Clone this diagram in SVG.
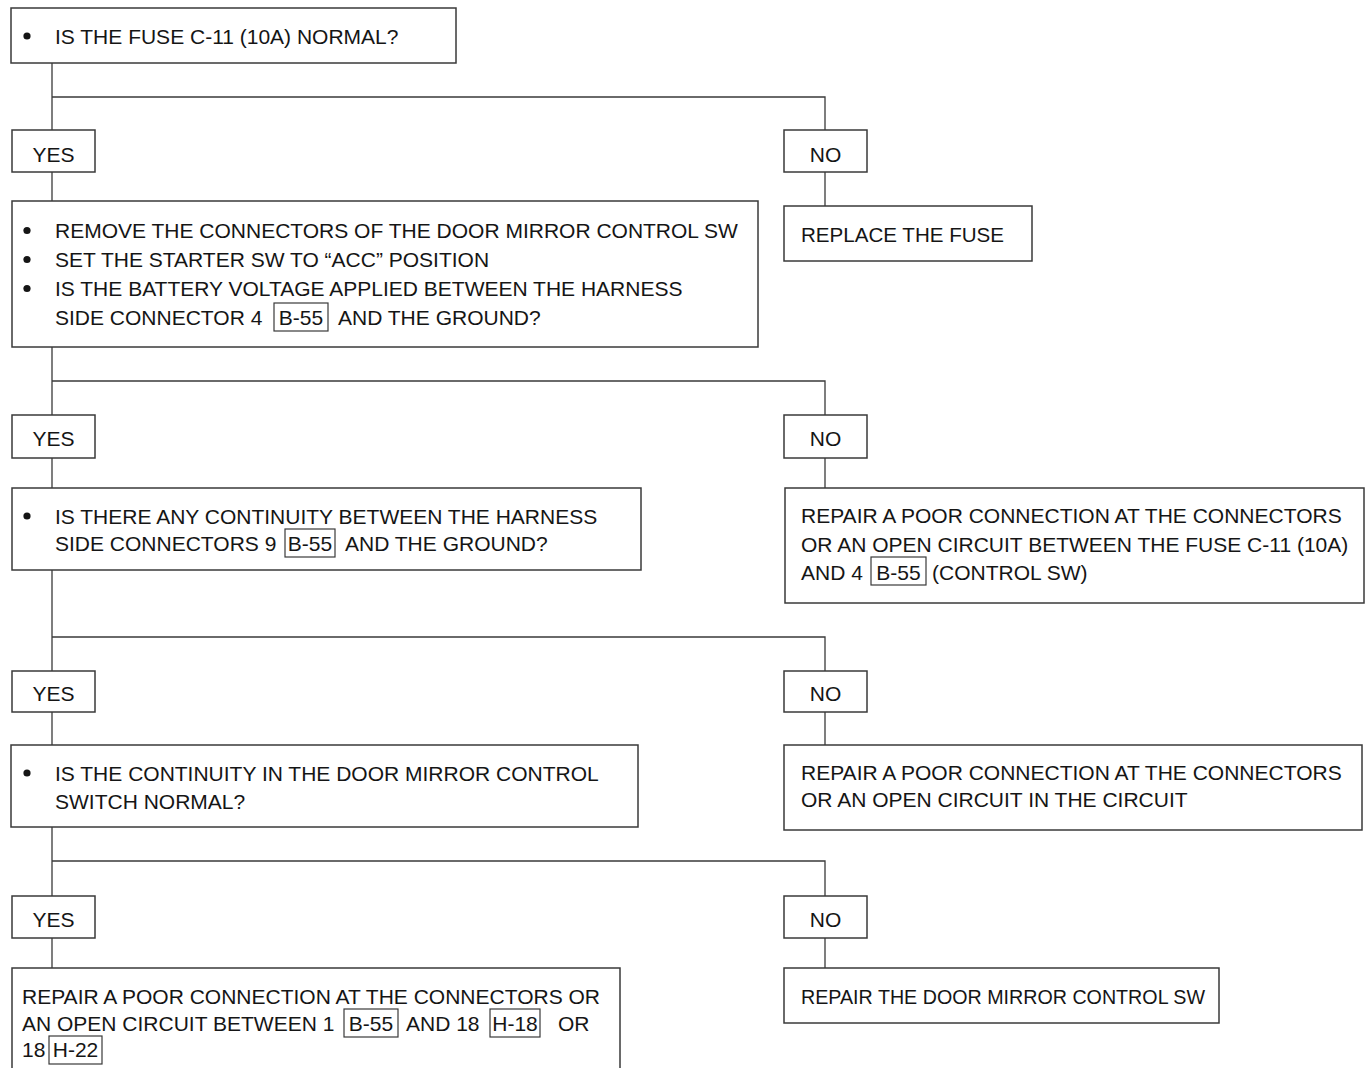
<svg xmlns="http://www.w3.org/2000/svg" width="1367" height="1068" viewBox="0 0 1367 1068">
<style>
  .box { fill: #ffffff; stroke: #3a3a3a; stroke-width: 1.5; }
  .tag { fill: none; stroke: #3a3a3a; stroke-width: 1.2; }
  .conn path { fill: none; stroke: #3a3a3a; stroke-width: 1.3; }
  text { font-family: "Liberation Sans", Arial, sans-serif; font-size: 21px; fill: #151515; }
  .c { text-anchor: middle; }
  .dot { fill: #151515; }
</style>
<rect width="1367" height="1068" fill="#ffffff"/>

<g id="connectors" class="conn">
  <path d="M52,63 V130 M52,97 H825 V130"/>
  <path d="M52,172 V201"/>
  <path d="M825,172 V206"/>
  <path d="M52,347 V415 M52,381 H825 V415"/>
  <path d="M52,458 V488"/>
  <path d="M825,458 V488"/>
  <path d="M52,570 V671 M52,637 H825 V671"/>
  <path d="M52,712 V745"/>
  <path d="M825,712 V745"/>
  <path d="M52,827 V896 M52,861 H825 V896"/>
  <path d="M52,938 V968"/>
  <path d="M825,938 V968"/>
</g>

<g id="q1">
  <rect class="box" x="11" y="8" width="445" height="55"/>
  <circle class="dot" cx="27" cy="36" r="3.6"/>
  <text x="55" y="44">IS THE FUSE C-11 (10A) NORMAL?</text>
</g>

<g id="yes1">
  <rect class="box" x="12" y="130" width="83" height="42"/>
  <text class="c" x="53.5" y="162">YES</text>
</g>
<g id="no1">
  <rect class="box" x="784" y="130" width="83" height="42"/>
  <text class="c" x="825.5" y="162">NO</text>
</g>
<g id="replace-fuse">
  <rect class="box" x="784" y="206" width="248" height="55"/>
  <text x="801" y="242" textLength="203" lengthAdjust="spacingAndGlyphs">REPLACE THE FUSE</text>
</g>

<g id="q2">
  <rect class="box" x="12" y="201" width="746" height="146"/>
  <circle class="dot" cx="27" cy="230.5" r="3.6"/>
  <circle class="dot" cx="27" cy="259.5" r="3.6"/>
  <circle class="dot" cx="27" cy="288.5" r="3.6"/>
  <text x="55" y="238">REMOVE THE CONNECTORS OF THE DOOR MIRROR CONTROL SW</text>
  <text x="55" y="267">SET THE STARTER SW TO “ACC” POSITION</text>
  <text x="55" y="296">IS THE BATTERY VOLTAGE APPLIED BETWEEN THE HARNESS</text>
  <text x="55" y="325">SIDE CONNECTOR 4</text>
  <rect class="tag" x="274" y="303" width="54" height="28"/>
  <text class="c" x="301" y="325">B-55</text>
  <text x="338" y="325">AND THE GROUND?</text>
</g>

<g id="yes2">
  <rect class="box" x="12" y="415" width="83" height="43"/>
  <text class="c" x="53.5" y="446">YES</text>
</g>
<g id="no2">
  <rect class="box" x="784" y="415" width="83" height="43"/>
  <text class="c" x="825.5" y="446">NO</text>
</g>

<g id="q3">
  <rect class="box" x="12" y="488" width="629" height="82"/>
  <circle class="dot" cx="27" cy="516" r="3.6"/>
  <text x="55" y="524">IS THERE ANY CONTINUITY BETWEEN THE HARNESS</text>
  <text x="55" y="551">SIDE CONNECTORS 9</text>
  <rect class="tag" x="285" y="529" width="50" height="28"/>
  <text class="c" x="310" y="551">B-55</text>
  <text x="345" y="551">AND THE GROUND?</text>
</g>

<g id="repair-a">
  <rect class="box" x="785" y="488" width="579" height="115"/>
  <text x="801" y="523">REPAIR A POOR CONNECTION AT THE CONNECTORS</text>
  <text x="801" y="552">OR AN OPEN CIRCUIT BETWEEN THE FUSE C-11 (10A)</text>
  <text x="801" y="580">AND 4</text>
  <rect class="tag" x="871" y="557" width="55" height="28"/>
  <text class="c" x="898.5" y="580">B-55</text>
  <text x="932" y="580">(CONTROL SW)</text>
</g>

<g id="yes3">
  <rect class="box" x="12" y="671" width="83" height="41"/>
  <text class="c" x="53.5" y="701">YES</text>
</g>
<g id="no3">
  <rect class="box" x="784" y="671" width="83" height="41"/>
  <text class="c" x="825.5" y="701">NO</text>
</g>

<g id="q4">
  <rect class="box" x="11" y="745" width="627" height="82"/>
  <circle class="dot" cx="27" cy="773" r="3.6"/>
  <text x="55" y="781">IS THE CONTINUITY IN THE DOOR MIRROR CONTROL</text>
  <text x="55" y="809">SWITCH NORMAL?</text>
</g>

<g id="repair-b">
  <rect class="box" x="784" y="745" width="578" height="85"/>
  <text x="801" y="780">REPAIR A POOR CONNECTION AT THE CONNECTORS</text>
  <text x="801" y="807">OR AN OPEN CIRCUIT IN THE CIRCUIT</text>
</g>

<g id="yes4">
  <rect class="box" x="12" y="896" width="83" height="42"/>
  <text class="c" x="53.5" y="927">YES</text>
</g>
<g id="no4">
  <rect class="box" x="784" y="896" width="83" height="42"/>
  <text class="c" x="825.5" y="927">NO</text>
</g>

<g id="repair-c">
  <rect class="box" x="12" y="968" width="608" height="120"/>
  <text x="22" y="1004">REPAIR A POOR CONNECTION AT THE CONNECTORS OR</text>
  <text x="22" y="1031">AN OPEN CIRCUIT BETWEEN 1</text>
  <rect class="tag" x="344" y="1009" width="54" height="28"/>
  <text class="c" x="371" y="1031">B-55</text>
  <text x="406" y="1031">AND 18</text>
  <rect class="tag" x="490" y="1009" width="50" height="28"/>
  <text class="c" x="515" y="1031">H-18</text>
  <text x="558" y="1031">OR</text>
  <text x="22" y="1057">18</text>
  <rect class="tag" x="49" y="1036" width="53" height="28"/>
  <text class="c" x="75.5" y="1057">H-22</text>
</g>

<g id="repair-sw">
  <rect class="box" x="784" y="968" width="435" height="55"/>
  <text x="801" y="1004" textLength="404" lengthAdjust="spacingAndGlyphs">REPAIR THE DOOR MIRROR CONTROL SW</text>
</g>
</svg>
